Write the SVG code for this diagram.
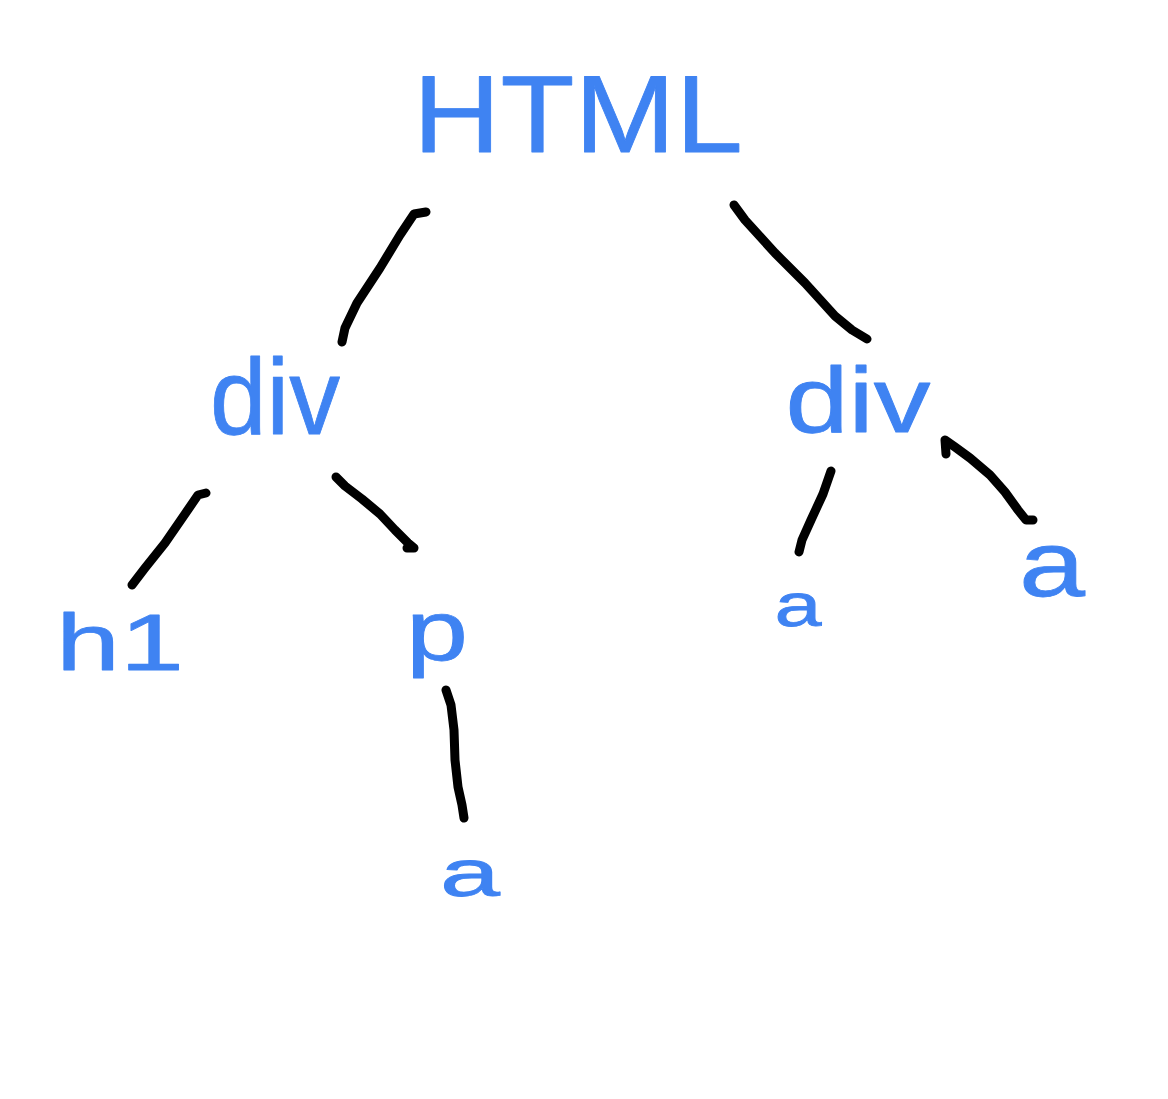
<svg xmlns="http://www.w3.org/2000/svg" width="1168" height="1099" viewBox="0 0 1168 1099">
<style>
.lbl{font-family:"Liberation Sans",Arial,sans-serif;fill:#3f83f2;stroke:#3f83f2;stroke-width:0.8;stroke-linejoin:round;text-anchor:middle}
.edge{fill:none;stroke:#000;stroke-width:9;stroke-linecap:round;stroke-linejoin:round}
</style>
<rect width="1168" height="1099" fill="#fff"/>
<g id="connectors">
<path class="edge" d="M426,212 L414,214 L400,235 L380,268 L357,303 L345,328 L342,342"/>
<path class="edge" d="M734,205 L745,220 L775,253 L805,283 L835,316 L852,330 L867,339"/>
<path class="edge" d="M206,493 L198,495 L185,514 L165,543 L145,568 L132,585"/>
<path class="edge" d="M336,477 L345,486 L362,499 L380,514 L395,530 L408,543 L414,548 L407,548"/>
<path class="edge" d="M446,690 L451,705 L454,730 L455,760 L458,787 L462,805 L464,818"/>
<path class="edge" d="M831,471 L823,494 L811,520 L802,540 L799,552"/>
<path class="edge" d="M946,454 L945,440 L955,447 L970,458 L990,475 L1005,492 L1018,510 L1026,520 L1033,520"/>
</g>
<g id="node-html"><text class="lbl" x="578" y="152" font-size="110" textLength="330" lengthAdjust="spacingAndGlyphs">HTML</text></g>
<g id="node-div-left"><text class="lbl" x="275" y="434" font-size="108" textLength="130" lengthAdjust="spacingAndGlyphs">div</text></g>
<g id="node-div-right"><text class="lbl" x="858" y="432" font-size="92" textLength="145" lengthAdjust="spacingAndGlyphs">div</text></g>
<g id="node-h1"><text class="lbl" x="120" y="670" font-size="80" textLength="128" lengthAdjust="spacingAndGlyphs">h1</text></g>
<g id="node-p"><text class="lbl" x="437" y="660" font-size="85" textLength="62" lengthAdjust="spacingAndGlyphs">p</text></g>
<g id="node-a-p"><text class="lbl" x="470" y="896" font-size="66" textLength="60" lengthAdjust="spacingAndGlyphs">a</text></g>
<g id="node-a-mid"><text class="lbl" x="798" y="626" font-size="62" textLength="47" lengthAdjust="spacingAndGlyphs">a</text></g>
<g id="node-a-right"><text class="lbl" x="1052" y="596" font-size="92" textLength="66" lengthAdjust="spacingAndGlyphs">a</text></g>
</svg>
